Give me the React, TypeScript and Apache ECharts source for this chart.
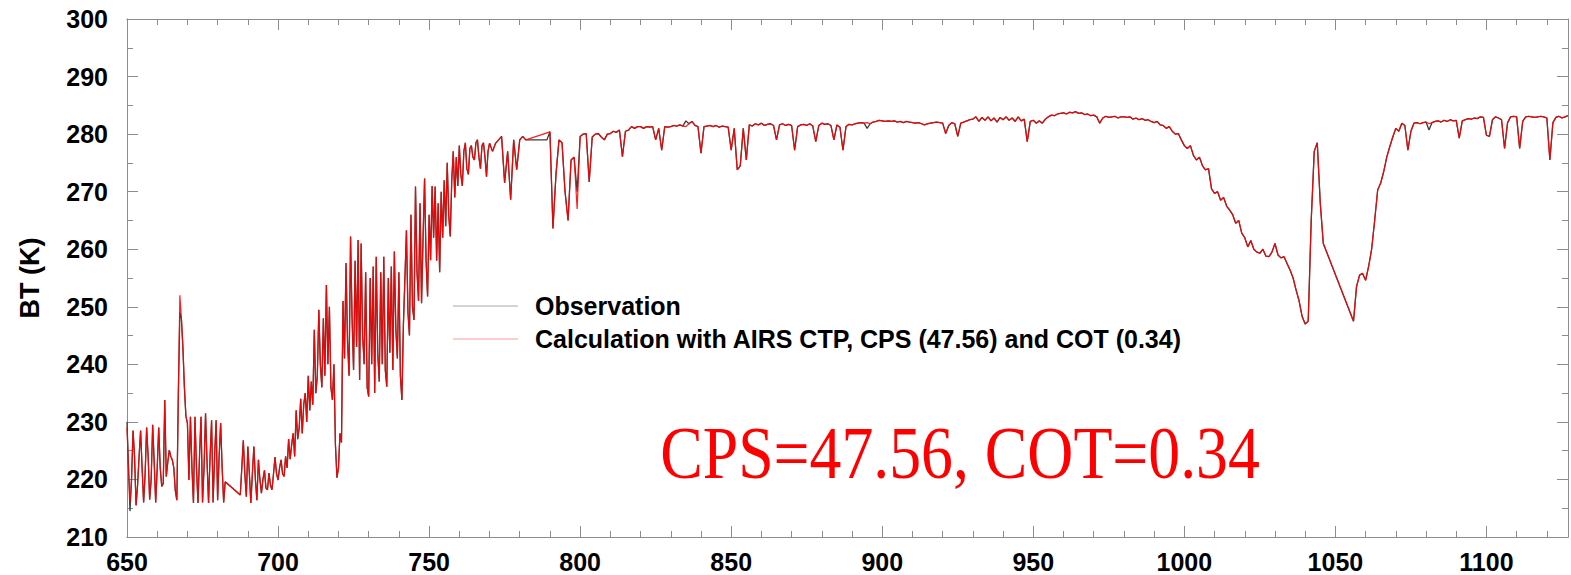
import React, { useEffect, useRef } from "react";
import * as echarts from "echarts";

// Calculated brightness temperature (K), 650.0..769.5 cm-1 every 0.5 cm-1 (null = missing channel)
const calcFine: (number | null)[] = [
  229, 222, 216, 220, 228.5, 224, 215.5, 219, 224, 228.5,
  222, 216, 221, 229, 224, 216.5, 220, 229.5, 223, 216,
  222, 229, 222, 218.8, 219.3, 233.8, 220.5, 223, 225.1, 224,
  223.4, 222, 218, 216.4, 235, 252, 248, 243, 236, 231,
  229.8, 219.9, 230.9, 222, 215.9, 230.9, 222, 215.9, 224, 230.9,
  216, 222, 231.5, 223, 215.9, 224, 230.3, 216, 224, 230.3,
  216.4, 224, 229.8, 222, 216, 219.6, null, null, null, null,
  null, null, null, null, null, 217.3, 222, 226.8, 221, 217,
  225.7, 221, 215.9, 221, 225.7, 220, 216.4, 223.4, 220, 217.6,
  220, 221.6, 218.5, 218.2, 221.1, 219, 218.2, 221, 223.9, 221,
  219.9, 222, 223.4, 221, 220.5, 224, 222, 227, 223.5, 226,
  228, 224, 232, 227, 229, 234, 228, 233, 235, 230,
  238, 232, 237, 233, 246, 235, 238, 249.5, 240, 236,
  248, 238, 253.8, 240, 250, 236, 233.8, 240, 226, 220.3,
  222, 228, 226.4, 251, 241, 257.6, 244, 238, 262.2, 248,
  239, 258, 243, 261.6, 237.3, 261, 245, 240, 256, 236,
  234.4, 255, 240, 257, 235, 258.7, 242, 237, 256, 240,
  258.7, 239, 236.1, 255, 242, 257, 239, 259.6, 246, 241,
  256, 238, 233.8, 247, 255, 263.3, 249, 245, 266, 250,
  247.7, 270.9, 256, 251, 268, 250.6, 262, 272.3, 258, 251.8,
  266, 258.1, 271, 262, 270.9, 258, 268, 256, 270, 262,
  272, 264, 275, 266, 262.2, 272, 277, 269, 276, 271,
  278, 273, 271, 277, 278.5, 274, 273, 277.5, 278, 276,
  275.5, 278.5, 279, 276, 274, 278, 278.5, 276, 272.6, 277,
];

// Calculated brightness temperature (K), 770..1127 cm-1 every 1 cm-1 (null = missing channel)
const calcCoarse: (number | null)[] = [
  278.4, 277, 278.4, 279, 279.6, 271.5, 277, 268.6, 279, 273.8,
  279, 279.6, 279, null, null, null, null, null, null, null,
  280.4, 263.6, 273, 279, 278.5, 270, 265, 275.5, 276, 267,
  279.6, 280, 280.1, 271.7, 279.5, 280, 280.1, 279.5, 279, 280,
  280.1, 280.5, 280.3, 280.7, 276.1, 280.5, 280.7, 281.3, 281, 281.3,
  281.3, 281, 281.3, 281.2, 281.3, 279, 281, 277.2, 281.3, 281.2,
  281.3, 281.5, 281.4, 281.6, 281.4, 281.3, 281.8, 282.2, 281.5, 281.3,
  276.7, 281.3, 281.4, 281.5, 281.3, 281.5, 281.2, 281.4, 281.3, 281.2,
  277.2, 281, 273.8, 274.5, 281, 275.5, 281.6, 281.4, 281.8, 281.6,
  281.9, 281.5, 281.7, 281.8, 281.5, 279, 281.6, 281.8, 281.5, 281.7,
  281.5, 277.2, 281.3, 281.6, 281.7, 281.5, 281.8, 281.4, 278.7, 281.5,
  281.9, 281.7, 281.8, 281.5, 279, 281.6, 281.2, 277.2, 281.3, 281.7,
  281.6, 281.8, 281.9, 282, 281.9, 282, 281.8, 282.1, 282.2, 282.4,
  282.3, 282.2, 282.3, 282.2, 282.3, 282.1, 282.2, 282, 282.2, 282.1,
  282, 281.9, 282, 281.8, 281.6, 281.8, 281.9, 282, 282.1, 282,
  281.9, 280.1, 281.5, 282, 281.8, 279.6, 281.9, 282.1, 282.3, 282.5,
  282.6, 283, 282.2, 282.9, 282.4, 283, 282.3, 282.8, 282.1, 282.9,
  282.5, 283, 282.4, 282.8, 282.2, 283, 282.3, 282.6, 278.7, 282.2,
  282.4, 281.9, 282.3, 281.9, 282.6, 283, 283.3, 283.2, 283.5, 283.6,
  283.7, 283.5, 283.8, 283.7, 283.9, 283.6, 283.7, 283.4, 283.5, 283.2,
  283.3, 283, 281.9, 282.8, 283.1, 282.9, 283, 283.1, 282.8, 283,
  283, 282.9, 283, 282.6, 282.8, 282.5, 282.7, 282.4, 282.5, 282.2,
  282, 282.2, 281.6, 281.5, 281, 281.3, 280.5, 280, 280.1, 279,
  278, 277.5, 278, 276.3, 275.5, 276, 274.5, 273.8, 274, 270.5,
  269.7, 270, 268.5, 269, 267.5, 266.8, 266, 264.5, 265, 262.8,
  262, 260.4, 261.5, 260, 259.5, 259.3, 260, 258.8, 258.7, 259.5,
  261, 259, 258.5, 258.7, 257.5, 256.4, 255, 252.9, 251, 248.3,
  247, 247.5, 265, 277, 278.5, 268, 261, null, null, null,
  null, null, null, null, null, null, 247.5, 253.5, 255.5, 255.8,
  254.6, 257, 260, 265, 270.3, 271.5, 273.5, 276, 277.8, 279.5,
  281, 280.5, 281.9, 281.5, 277.2, 280.5, 281.9, 282, 281.8, 282,
  282.1, 281.8, 282, 282.2, 282.3, 282.1, 282.4, 282.2, 282.5, 282.3,
  282.4, 279.3, 282.3, 282.5, 282.7, 282.6, 282.8, 282.7, 283, 282.9,
  279.8, 279.6, 282.5, 283, 282.8, 282.5, 277.5, 282, 283, 283.1,
  283, 277.5, 282.2, 283, 283.1, 283, 282.9, 283, 283.1, 283,
  282.8, 275.5, 282, 282.9, 283.1, 282.8, 283, 283.2,
];

// Channels where the observation visibly differs from the calculation
const obsDiffWavenumber = [650, 651, 667.5, 676, 789, 799, 835, 895, 1081];
const obsDiffValue = [230, 214.5, 249, 231.5, 279, 270, 282.3, 281, 280.7];

// channel grid: 0.5 cm-1 spacing below 770, 1 cm-1 above
const wavenumber = [
  ...calcFine.map((_, i) => 650 + i * 0.5),
  ...calcCoarse.map((_, i) => 770 + i),
];
const calculation = [...calcFine, ...calcCoarse];
const observation = calculation.map((v, i) => {
  const k = obsDiffWavenumber.indexOf(wavenumber[i]);
  return k >= 0 ? obsDiffValue[k] : v;
});

const xMajorTicks = [650, 700, 750, 800, 850, 900, 950, 1000, 1050, 1100];
const seriesNames = ["Observation", "Calculation with AIRS CTP, CPS (47.56) and COT (0.34)"];
const annotation = "CPS=47.56, COT=0.34";

const AXIS_COLOR = "#8c8c8c";
const LABEL_FONT = {
  fontFamily: "Liberation Sans, Arial, sans-serif",
  fontWeight: "bold" as const,
  fontSize: 25,
  color: "#000",
};

function xAxisDef(position: "bottom" | "top", major: boolean) {
  return {
    type: "value",
    position,
    min: 650,
    max: 1127,
    interval: major ? 50 : 10,
    axisLine: { show: true, onZero: false, lineStyle: { color: AXIS_COLOR, width: 1 } },
    axisTick: { show: true, inside: true, length: major ? 11 : 6, lineStyle: { color: AXIS_COLOR, width: 1 } },
    axisLabel: {
      show: major && position === "bottom",
      showMaxLabel: false,
      margin: 12,
      ...LABEL_FONT,
      formatter: (v: number) => (xMajorTicks.indexOf(v) >= 0 ? String(v) : ""),
    },
    splitLine: { show: false },
  };
}

function yAxisDef(position: "left" | "right") {
  return {
    type: "value",
    position,
    min: 210,
    max: 300,
    interval: 10,
    axisLine: { show: true, onZero: false, lineStyle: { color: AXIS_COLOR, width: 1 } },
    axisTick: { show: true, inside: true, length: 11, lineStyle: { color: AXIS_COLOR, width: 1 } },
    minorTick: { show: true, splitNumber: 2, length: 6, lineStyle: { color: AXIS_COLOR, width: 1 } },
    axisLabel: { show: position === "left", margin: 19, ...LABEL_FONT },
    splitLine: { show: false },
  };
}

export default function App() {
  const ref = useRef<HTMLDivElement>(null);
  useEffect(() => {
    if (!ref.current) return;
    const chart = echarts.init(ref.current, null, { renderer: "svg" });
    const option: any = {
      animation: false,
      backgroundColor: "#fff",
      grid: { left: 127, top: 19, right: 3, bottom: 38, containLabel: false },
      xAxis: [
        xAxisDef("bottom", true),
        xAxisDef("bottom", false),
        xAxisDef("top", true),
        xAxisDef("top", false),
      ],
      yAxis: [yAxisDef("left"), yAxisDef("right")],
      legend: {
        orient: "vertical",
        left: 453,
        top: 293.5,
        padding: 0,
        itemWidth: 65,
        itemHeight: 1,
        itemGap: 8,
        icon: "rect",
        textStyle: { ...LABEL_FONT, padding: [0, 0, 0, 12] },
        data: [
          { name: seriesNames[0], icon: "rect", itemStyle: { color: "#a8a8a8", borderWidth: 0 } },
          { name: seriesNames[1], icon: "rect", itemStyle: { color: "#ff9a9a", borderWidth: 0 } },
        ],
      },
      series: [
        {
          name: seriesNames[0],
          type: "line",
          xAxisIndex: 0,
          yAxisIndex: 0,
          symbol: "none",
          connectNulls: true,
          color: "#3a3a3a",
          lineStyle: { color: "#3a3a3a", width: 1.3 },
          data: wavenumber.map((w, i) => [w, observation[i]]),
        },
        {
          name: seriesNames[1],
          type: "line",
          xAxisIndex: 0,
          yAxisIndex: 0,
          symbol: "none",
          connectNulls: true,
          color: "#ff0000",
          lineStyle: { color: "#ff0000", width: 1.2, opacity: 0.88 },
          data: wavenumber.map((w, i) => [w, calculation[i]]),
        },
      ],
      graphic: [
        {
          type: "text",
          x: 30,
          y: 278,
          rotation: Math.PI / 2,
          style: {
            text: "BT (K)",
            fontFamily: "Liberation Sans, Arial, sans-serif",
            fontWeight: "bold",
            fontSize: 27,
            fill: "#000",
            align: "center",
            verticalAlign: "middle",
          },
        },
        {
          type: "text",
          x: 960,
          y: 453,
          scaleX: 0.85,
          style: {
            text: annotation,
            fontFamily: "Liberation Serif, Times New Roman, serif",
            fontSize: 75,
            fill: "#ff0000",
            align: "center",
            verticalAlign: "middle",
          },
        },
      ],
    };
    chart.setOption(option);
    return () => chart.dispose();
  }, []);
  return (
    <div
      ref={ref}
      style={{ position: "absolute", left: 0, top: 0, width: 1571, height: 575, background: "#fff" }}
    />
  );
}
